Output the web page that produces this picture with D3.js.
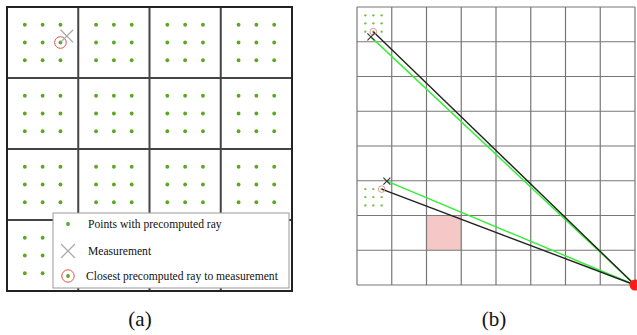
<!DOCTYPE html>
<html>
<head>
<meta charset="utf-8">
<script src="https://cdn.jsdelivr.net/npm/d3@7"></script>
<style>
  html, body { margin: 0; padding: 0; background: #fff; }
  svg { display: block; }
  text { font-family: "Liberation Serif", "DejaVu Serif", serif; fill: #111; }
</style>
</head>
<body>
<svg id="fig" width="637" height="335"></svg>
<script>
// ---- Panel (a): coarse 4x4 grid, each cell with a 3x3 set of precomputed rays
const gridA = 4;
const sampleOffsetsA = [0.25, 0.5, 0.75];
const measurementA = [0.84, 0.41];
const closestA = [0.75, 0.5];
const legendLabels = ["Points with precomputed ray", "Measurement", "Closest precomputed ray to measurement"];

// ---- Panel (b): fine 8x8 grid, two measurements traced back to a source
const gridB = 8;
const sampleOffsetsB = [0.24, 0.47, 0.71];
const sampleCellsB = [[0, 0], [0, 5]];
const measurementsB = [[0.40, 0.86], [0.86, 5.01]];
const closestB = [[0.47, 0.71], [0.71, 5.24]];
const sourceB = [8, 8];
const highlightCell = [2, 6];

const panelLabels = ["(a)", "(b)"];

const svg = d3.select("#fig");

// ---------- (a)
const xA = d3.scaleLinear().domain([0, gridA]).range([7, 292]);
const yA = d3.scaleLinear().domain([0, gridA]).range([7, 291]);
const gA = svg.append("g");

const cellsA = d3.range(gridA * gridA).map(i => [i % gridA, Math.floor(i / gridA)]);
const ptsA = [];
cellsA.forEach(([c, r]) => sampleOffsetsA.forEach(oy => sampleOffsetsA.forEach(ox => ptsA.push([c + ox, r + oy]))));

gA.selectAll("circle.pt").data(ptsA).join("circle")
  .attr("class", "pt")
  .attr("cx", d => xA(d[0])).attr("cy", d => yA(d[1])).attr("r", 1.9)
  .attr("fill", "#5aa81e");

gA.selectAll("line.v").data(d3.range(1, gridA)).join("line")
  .attr("x1", d => xA(d)).attr("x2", d => xA(d)).attr("y1", yA(0)).attr("y2", yA(gridA))
  .attr("stroke", "#444").attr("stroke-width", 2);
gA.selectAll("line.h").data(d3.range(1, gridA)).join("line")
  .attr("y1", d => yA(d)).attr("y2", d => yA(d)).attr("x1", xA(0)).attr("x2", xA(gridA))
  .attr("stroke", "#444").attr("stroke-width", 2);
gA.append("rect")
  .attr("x", xA(0)).attr("y", yA(0)).attr("width", xA(gridA) - xA(0)).attr("height", yA(gridA) - yA(0))
  .attr("fill", "none").attr("stroke", "#222").attr("stroke-width", 2);

function drawCross(g, cx, cy, h, color, w) {
  g.append("path")
    .attr("d", `M${cx - h},${cy - h}L${cx + h},${cy + h}M${cx - h},${cy + h}L${cx + h},${cy - h}`)
    .attr("stroke", color).attr("stroke-width", w).attr("fill", "none");
}
function drawRing(g, cx, cy, r, color, w) {
  g.append("circle").attr("cx", cx).attr("cy", cy).attr("r", r)
    .attr("fill", "none").attr("stroke", color).attr("stroke-width", w);
}

drawRing(gA, xA(closestA[0]), yA(closestA[1]), 5.8, "#d9534f", 1);
drawCross(gA, xA(measurementA[0]), yA(measurementA[1]), 6.3, "#aaa", 1.3);

// legend
const lg = gA.append("g");
lg.append("rect").attr("x", 53).attr("y", 213).attr("width", 236).attr("height", 75)
  .attr("fill", "#fff").attr("stroke", "#999").attr("stroke-width", 1);
const legY = [224, 251, 276];
lg.append("circle").attr("cx", 68).attr("cy", legY[0]).attr("r", 1.9).attr("fill", "#5aa81e");
drawCross(lg, 68, legY[1], 7, "#aaa", 1.3);
drawRing(lg, 68, legY[2], 6.2, "#d9534f", 1);
lg.append("circle").attr("cx", 68).attr("cy", legY[2]).attr("r", 1.9).attr("fill", "#5aa81e");
lg.selectAll("text").data(legendLabels).join("text")
  .attr("x", (d, i) => i === 2 ? 86 : 88)
  .attr("y", (d, i) => legY[i] + 3.5)
  .attr("font-size", 11.6)
  .text(d => d);

// ---------- (b)
const xB = d3.scaleLinear().domain([0, gridB]).range([357, 635]);
const yB = d3.scaleLinear().domain([0, gridB]).range([7, 285]);
const gB = svg.append("g");

gB.append("rect")
  .attr("x", xB(highlightCell[0])).attr("y", yB(highlightCell[1]))
  .attr("width", xB(1) - xB(0)).attr("height", yB(1) - yB(0))
  .attr("fill", "#f5c7c7");

gB.selectAll("line.v").data(d3.range(0, gridB + 1)).join("line")
  .attr("x1", d => xB(d)).attr("x2", d => xB(d)).attr("y1", yB(0)).attr("y2", yB(gridB))
  .attr("stroke", "#777").attr("stroke-width", 1.2);
gB.selectAll("line.h").data(d3.range(0, gridB + 1)).join("line")
  .attr("y1", d => yB(d)).attr("y2", d => yB(d)).attr("x1", xB(0)).attr("x2", xB(gridB))
  .attr("stroke", "#777").attr("stroke-width", 1.2);

const ptsB = [];
sampleCellsB.forEach(([c, r]) => sampleOffsetsB.forEach(oy => sampleOffsetsB.forEach(ox => ptsB.push([c + ox, r + oy]))));
gB.selectAll("circle.pt").data(ptsB).join("circle")
  .attr("cx", d => xB(d[0])).attr("cy", d => yB(d[1])).attr("r", 1.2)
  .attr("fill", "#7cc04a");

const line = d3.line().x(d => xB(d[0])).y(d => yB(d[1]));
measurementsB.forEach((m, i) => {
  gB.append("path").attr("d", line([m, sourceB]))
    .attr("stroke", "#33ee33").attr("stroke-width", 1.4).attr("fill", "none");
  gB.append("path").attr("d", line([closestB[i], sourceB]))
    .attr("stroke", "#222").attr("stroke-width", 1.4).attr("fill", "none");
  drawRing(gB, xB(closestB[i][0]), yB(closestB[i][1]), 3.3, "#e08a8a", 0.9);
  drawCross(gB, xB(m[0]), yB(m[1]), 3.5, "#333", 1.1);
});

gB.append("circle").attr("cx", xB(sourceB[0])).attr("cy", yB(sourceB[1])).attr("r", 5.5)
  .attr("fill", "#ff1a1a");

// panel captions
svg.selectAll("text.cap").data(panelLabels).join("text")
  .attr("class", "cap")
  .attr("x", (d, i) => i === 0 ? 140 : 494)
  .attr("y", 326)
  .attr("text-anchor", "middle")
  .attr("font-size", 21)
  .text(d => d);
</script>
</body>
</html>
